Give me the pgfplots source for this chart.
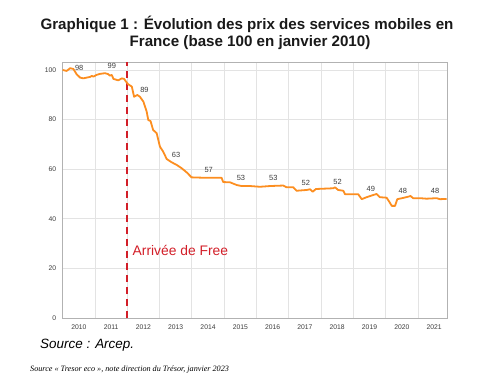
\documentclass[border=0pt]{standalone}
\usepackage{fontspec}
\setmainfont{Liberation Sans}
\newfontfamily\timesfont{Liberation Serif}
\usepackage{pgfplots}
\pgfplotsset{compat=1.18}
\definecolor{orangeline}{RGB}{252,142,32}
\definecolor{freered}{RGB}{210,30,40}
\definecolor{ticktext}{RGB}{60,60,60}
\begin{document}
\begin{tikzpicture}[x=1bp,y=1bp]
\path[use as bounding box] (0,0) rectangle (503,376);
\node[font=\fontsize{15.2}{18}\selectfont\bfseries, anchor=base, text=black!90, inner sep=0pt] at (247,346.5) {Graphique 1 : Évolution des prix des services mobiles en};
\node[font=\fontsize{15.2}{18}\selectfont\bfseries, anchor=base, text=black!90, inner sep=0pt] at (250,330) {France (base 100 en janvier 2010)};
\node[font=\fontsize{13.5}{16}\selectfont\itshape, anchor=base west, inner sep=0pt] at (40,28) {Source : Arcep.};
\node[font=\timesfont\fontsize{8.2}{9}\selectfont\itshape, anchor=base west, inner sep=0pt] at (30,5) {Source « Tresor eco », note direction du Trésor, janvier 2023};
\begin{axis}[
  at={(62.7bp,58bp)}, anchor=south west,
  scale only axis, width=384.3bp, height=256bp,
  xmin=2010, xmax=2021.9, ymin=0, ymax=103.2,
  clip=false,
  xtick={2010.5,2011.5,2012.5,2013.5,2014.5,2015.5,2016.5,2017.5,2018.5,2019.5,2020.5,2021.5},
  xticklabels={2010,2011,2012,2013,2014,2015,2016,2017,2018,2019,2020,2021},
  minor xtick={2011,2012,2013,2014,2015,2016,2017,2018,2019,2020,2021},
  xminorgrids, ymajorgrids,
  ytick={0,20,40,60,80,100},
  major tick length=0pt, minor tick length=0pt,
  grid style={draw=gray!22, line width=0.8pt},
  minor grid style={draw=gray!22, line width=0.8pt},
  axis line style={draw=gray!60, line width=0.8pt},
  /pgf/number format/assume math mode=true,
  ticklabel style={font=\fontsize{6.8}{7}\selectfont, text=ticktext},
  xticklabel style={yshift=-3.5bp},
  yticklabel style={xshift=-3bp},
]
\addplot[freered, line width=1.8bp, dash pattern=on 7bp off 5bp] coordinates {(2011.98,0) (2011.98,103.2)};
\addplot[orangeline, line width=1.8bp, line join=round] coordinates {
(2010.00,100.0) (2010.12,99.6) (2010.23,100.7) (2010.33,100.4) (2010.43,98.3) (2010.54,96.9)
(2010.64,96.6) (2010.74,96.9) (2010.85,97.2) (2010.90,97.6) (2010.95,97.3) (2011.05,98.0)
(2011.15,98.4) (2011.31,98.7) (2011.41,98.3) (2011.46,97.7) (2011.52,98.0) (2011.57,96.4)
(2011.72,95.8) (2011.83,96.6) (2011.90,96.4) (2011.96,95.3) (2012.03,94.2) (2012.14,93.3)
(2012.21,89.2) (2012.31,89.9) (2012.39,89.2) (2012.50,87.2) (2012.60,83.2) (2012.65,79.8)
(2012.72,79.4) (2012.80,75.8) (2012.91,74.5) (2013.01,69.1) (2013.11,67.1) (2013.22,64.1)
(2013.37,62.8) (2013.53,61.7) (2013.68,60.4) (2013.84,58.7) (2013.99,56.7) (2014.46,56.5)
(2014.92,56.5) (2014.97,54.8) (2015.18,54.7) (2015.39,53.6) (2015.54,53.2) (2015.80,53.2)
(2016.11,52.9) (2016.42,53.2) (2016.83,53.4) (2016.93,52.7) (2017.14,52.7) (2017.24,51.3)
(2017.55,51.6) (2017.66,51.9) (2017.74,50.9) (2017.84,52.0) (2018.38,52.3) (2018.43,52.7)
(2018.53,51.6) (2018.69,51.3) (2018.74,49.9) (2019.15,49.9) (2019.26,47.9) (2019.41,48.7)
(2019.62,49.6) (2019.72,50.0) (2019.82,48.7) (2020.03,48.5) (2020.11,46.9) (2020.19,45.2)
(2020.29,45.2) (2020.36,47.9) (2020.54,48.4) (2020.70,48.9) (2020.77,49.2) (2020.85,48.3)
(2021.06,48.3) (2021.27,48.1) (2021.58,48.3) (2021.68,47.9) (2021.89,48.0)
};
\begin{scope}[every node/.style={font=\fontsize{7.5}{8}\selectfont, text=ticktext, inner sep=0pt}]
\node at (axis cs:2010.51,100.7) {98};
\node at (axis cs:2011.52,101.7) {99};
\node at (axis cs:2012.53,91.9) {89};
\node at (axis cs:2013.51,65.7) {63};
\node at (axis cs:2014.52,59.7) {57};
\node at (axis cs:2015.52,56.3) {53};
\node at (axis cs:2016.52,56.6) {53};
\node at (axis cs:2017.53,54.6) {52};
\node at (axis cs:2018.51,55.0) {52};
\node at (axis cs:2019.54,52.0) {49};
\node at (axis cs:2020.53,51.3) {48};
\node at (axis cs:2021.53,51.3) {48};
\end{scope}
\node[anchor=west, inner sep=0pt, text=freered, font=\fontsize{13.9}{15}\selectfont] at (axis cs:2012.16,27.4) {Arrivée de Free};
\end{axis}
\end{tikzpicture}
\end{document}
